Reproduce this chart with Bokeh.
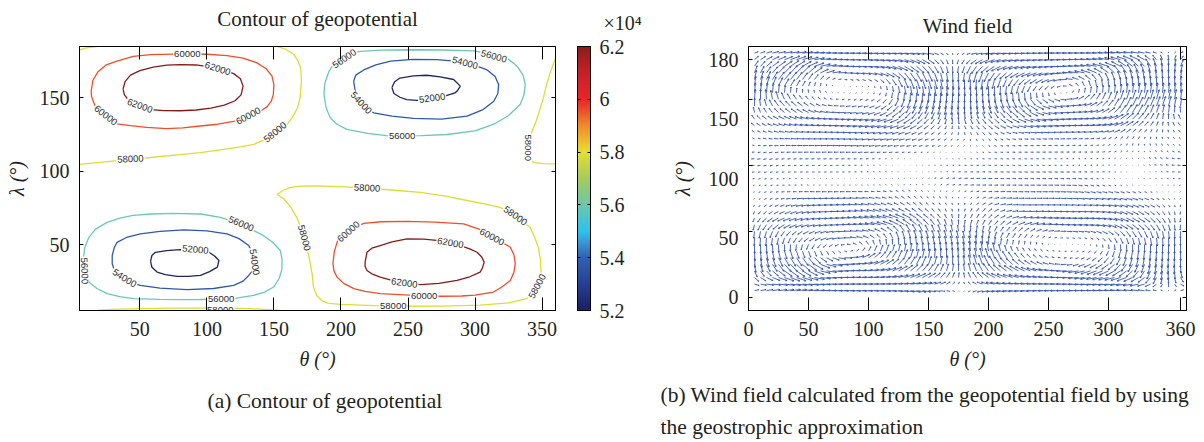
import numpy as np
from bokeh.plotting import figure
from bokeh.layouts import row
from bokeh.models import Range1d, LinearAxis, FixedTicker, Title, ColumnDataSource, LinearColorMapper
from bokeh.core.properties import value
from bokeh.embed import file_html
from bokeh.resources import INLINE

SERIF = "'Liberation Serif'"
SANS = "'Liberation Sans'"
INK = "#231f20"

# ---------------------------------------------------------------- data
title_left = "Contour of geopotential"
title_right = "Wind field"
caption_left = "(a)  Contour of geopotential"
caption_right_1 = "(b)  Wind field calculated from the geopotential field by using"
caption_right_2 = "the geostrophic approximation"
xlabel = "θ (°)"
ylabel = "λ (°)"

left_xticks = [50, 100, 150, 200, 250, 300, 350]
left_yticks = [50, 100, 150]
right_xticks = [0, 50, 100, 150, 200, 250, 300, 360]
right_yticks = [0, 50, 100, 150, 180]
right_ylabel_pos = [0, 45, 90, 135, 180]          # where the labels sit in the original
right_ylabel_txt = ["0", "50", "100", "150", "180"]

cbar_ticks = [52000, 54000, 56000, 58000, 60000, 62000]
cbar_labels = ["5.2", "5.4", "5.6", "5.8", "6", "6.2"]
cbar_exponent = "×10⁴"

cmap_levels = [52000, 53000, 54000, 54500, 55000, 56000, 57000, 58000, 58300, 59000, 60000, 61000, 62000]
cmap_colors = ["#1c1f60", "#264094", "#2f64b4", "#3a8fd0", "#2ec2ec", "#6cc7ac", "#a8ca5a",
               "#e2e032", "#ecc82e", "#f08a2a", "#e8262a", "#c8202a", "#8c1c1c"]

level_colors = {52000: "#1d2468", 54000: "#2f58ac", 56000: "#6cc8b4",
                58000: "#dedc36", 60000: "#ee4f2a", 62000: "#861a1a"}

# contour paths: (theta, lambda)
c62_top_left = [(37.5,156),(39,161),(43,165.5),(50,168.5),(60,171),(70,172.3),(80,172.7),(92,172.4),
                (103,171),(112,169),(120,166.5),(125,163),(127,158),(125.5,152),(121,148),(113,145),
                (103,143),(92,141.7),(80,141.2),(68,141.3),(58,142),(49,144),(42,148),(38.5,152),(37.5,156)]
c60_top_left = [(13.7,154.5),(15,162),(19,168),(25,172.5),(33,175),(45,178.3),(58,179.4),(75,179.8),
                (90,179.9),(100,179.7),(115,178.8),(127,177),(137,174),(144,170),(148.5,165),(150,159),
                (149.5,152),(148,147.7),(145,144),(141,141.5),(133,138),(120,134),(108,132),(95,130.8),
                (82,129.5),(70,129),(55,129.8),(43,131),(33,132.3),(24,137.5),(18,142),(15.5,147),
                (14,151),(13.7,154.5)]
c58_top_left = [(5,104.7),(20,106),(35,107.4),(50,108.5),(65,110),(80,111.3),(95,112.6),(110,114.5),
                (125,116.5),(135,118.3),(143,121.5),(150,125.5),(156,129.5),(160,132),(164,137),
                (167.5,143),(169.5,150),(170.5,161),(170,170),(168,175),(165,179.5),(159,183),(152.5,185)]
c58_corner = [(5,182.6),(10,184),(18,185)]
c56_top_right = [(187.3,152.2),(188,160),(191,168),(195,173.5),(199.5,177),(206,180),(214.5,181.7),
                 (230,182.5),(254,182.8),(275,182.6),(299,182),(312,180),(323.7,177),(329,173.5),
                 (332.4,170.3),(336,165),(337.4,159),(336.5,152),(333.6,145.5),(325,138),(314,132),
                 (300,127.5),(279,125),(260,124.2),(245.6,124),(234,124.2),(220,125.8),(204.4,128.5),
                 (197,132),(192,136.4),(189,143),(187.3,152.2)]
c54_top_right = [(209.5,161.3),(211,165.5),(217,169),(226,172.5),(237,175),(254,176.2),(271.5,176),
                 (285,175),(296,173.5),(309,169),(315,164.5),(317.6,159),(317,153),(314,147.7),
                 (306,142),(294,137.5),(275,135.5),(254,136),(238,137.5),(224.4,139.8),(216,145),
                 (211,152),(209.5,161.3)]
c52_top_right = [(238,157),(240,161),(244,163.5),(254,165),(264,165.4),(274,164.3),(284,162.5),
                 (289,158),(287,155),(285,153.3),(275,150.5),(266,149.2),(256.7,148.2),(249,148.8),
                 (244,150.4),(239.5,153),(238,157)]
c58_right_edge = [(360,177),(356,167),(353,158),(351,150),(348,141),(345.5,134),(342.6,127.4),
                  (340.5,120),(339.6,113),(340.5,108),(344,105.8),(351,105.2),(360,105)]
c58_middle = [(152.3,84.3),(157,87),(162.3,88.9),(170,89.8),(180,90),(200,89.5),(219.5,88.4),
              (240,87),(259,85.5),(278,83),(294,80),(308,77.5),(318.7,75.3),(326,71.5),(333,67),
              (341,61.7),(344.5,55),(347.2,48),(348.7,40),(349.2,30),(348,24),(345,18.5),(338.6,13.1),
              (325,10.2),(303.8,8.6),(275,8),(249,7.9),(225,8.3),(199.4,9.2),(190,10),(186,11.5),
              (182,15),(179.5,21),(178.5,30),(176.5,40),(174.5,48),(172,57),(169.5,63),(167,68.5),
              (162.5,75.5),(157.5,81),(152.3,84.3)]
c60_bottom_right = [(194,36.9),(195,45),(198.2,54.9),(205.7,58.7),(211,61.8),(217,64.4),(230,65.5),
                    (249.3,65.8),(270,65.3),(291.5,64),(303,60.5),(313,55.5),(320,51.5),(326.3,48.1),
                    (329,43),(330,36.9),(329,31),(326.3,25.5),(320,21),(313.7,17.6),(300,15.5),
                    (290,14.9),(274,14.7),(255,15.3),(240,16),(229.3,16.5),(218,18),(209.6,19.9),
                    (202,23.5),(197,27.8),(194.8,32),(194,36.9)]
c62_bottom_right = [(218,38),(219.4,44.7),(223,47.5),(229.3,49.3),(238,51.8),(249.2,53.8),(262,53.7),
                    (275,52.5),(288,49.5),(296,47),(301.5,44.7),(305,41.5),(306.8,38),(305.5,34),
                    (303.8,31.2),(296,28),(286.6,25.5),(273,23.5),(259.3,22.6),(247.2,23.7),(238,25.5),
                    (229.3,27.8),(223,30),(219.4,32.3),(218,35),(218,38)]
c56_bottom_left = [(8,41.3),(9,48),(12,54.9),(17,60.5),(25.6,65.1),(35,68),(45,69.8),(58,70.8),(75,71.2),
                   (95.4,70.8),(110,68.5),(125.5,64),(135,59.5),(142.3,56),(149,51.5),(154.8,45.9),
                   (156,40),(156,33.4),(154,27),(149.8,21),(143,17.5),(134.9,15.3),(122,13.5),
                   (110.6,12.8),(95,12.5),(82.7,12.4),(65,12.6),(45.5,13.1),(35,14.5),(25.6,16.5),
                   (18,20),(12,24.4),(9.5,30),(8.3,36),(8,41.3)]
c54_bottom_left = [(29.4,42.5),(31,48),(33,51.5),(40,54.8),(50.4,57.2),(65,59),(82.7,60),(100,59.3),
                   (115,57.2),(124,54),(131.2,49.3),(134,44),(135.4,38),(134,32),(131.2,28.9),(127,25),
                   (120,22.1),(105,20),(85.3,19.2),(65,20.2),(50.4,22.1),(42,24.5),(35,28.5),(31,32.5),
                   (29.4,36.9),(29.4,42.5)]
c52_bottom_left = [(58,38.5),(59,42.5),(61.6,44.7),(70,45.8),(80,46.5),(91.4,46.4),(101.6,44.7),(106,42),
                   (109,39.1),(107.8,34.6),(102,31.5),(95.2,28.9),(86,28.3),(77.9,28.2),(69,29.5),
                   (62.9,31.2),(59,34.5),(58,38.5)]
c58_bottom_strip = [(18,5),(30,5.8),(50,6.3),(75,6.6),(100,6.6),(125,6.4),(140,6.0),(150,5.4),(155,5)]

contours = [(62000, c62_top_left), (60000, c60_top_left), (58000, c58_top_left), (58000, c58_corner),
            (56000, c56_top_right), (54000, c54_top_right), (52000, c52_top_right),
            (58000, c58_right_edge), (58000, c58_middle), (60000, c60_bottom_right),
            (62000, c62_bottom_right), (56000, c56_bottom_left), (54000, c54_bottom_left),
            (52000, c52_bottom_left), (58000, c58_bottom_strip)]

# inline contour labels: theta, lambda, text, rotation (deg)
label_theta = [85.4, 108, 50, 24.5, 131, 43, 151, 202.6, 314, 292.5, 215, 268, 245.6, 339.5,
               219.5, 330, 346.5, 239, 205.7, 312.6, 262, 281.6, 247.2, 172.5, 125.5, 91.4,
               135.4, 38.5, 110.6, 110, 8.6]
label_lambda = [179.9, 169.8, 144.5, 138, 137.5, 108.2, 126.5, 176.6, 178.2, 173.8, 146.5, 149.7,
                124, 116, 88.4, 69.5, 21.5, 7.9, 58.7, 55, 15, 51, 23.7, 54.5, 64, 46.4, 38, 27,
                12.7, 5.6, 32]
label_text = ["60000", "62000", "62000", "60000", "60000", "58000", "58000", "56000", "56000",
              "54000", "54000", "52000", "56000", "58000", "58000", "58000", "58000", "58000",
              "60000", "60000", "60000", "62000", "62000", "58000", "56000", "52000", "54000",
              "54000", "56000", "58000", "56000"]
label_angle = [0, -18, -20, -38, 28, 3, 40, 35, -15, -15, -47, 8, 0, -90, -3, -35, 62, 0, 42, -28,
               0, -10, -8, -75, -22, -5, -82, -32, 0, 0, -88]

phi_theta_nodes = [0, 30, 60, 90, 120, 150, 180, 210, 240, 270, 300, 330, 360]
phi_lambda_nodes = [5, 20, 35, 50, 65, 80, 95, 110, 125, 140, 155, 170, 185]
phi_table = [
    [57800, 58100, 58400, 58400, 58300, 58000, 57800, 57500, 57300, 57300, 57400, 57600, 57800],
    [57000, 55500, 54000, 53900, 54500, 56100, 58000, 60000, 61300, 61600, 60800, 59300, 57000],
    [56900, 54000, 51950, 51500, 53050, 55500, 58300, 61300, 62600, 62800, 62300, 60000, 56900],
    [56900, 54200, 52900, 52600, 53400, 56000, 58700, 60900, 62300, 62500, 61900, 59800, 56900],
    [57000, 55800, 54900, 54900, 55800, 57200, 58500, 59800, 60100, 60100, 59800, 58500, 57000],
    [57100, 56800, 56800, 56800, 57000, 57700, 58300, 58500, 58500, 58400, 57900, 57400, 57100],
    [57500, 57300, 57200, 57150, 57300, 57500, 57600, 57600, 57500, 57400, 57400, 57400, 57500],
    [58200, 58000, 57900, 57800, 57600, 57400, 57200, 57000, 56900, 56900, 57000, 57600, 58200],
    [58600, 59200, 59500, 59500, 59000, 58200, 57300, 56300, 55900, 55900, 56300, 57500, 58600],
    [59100, 60700, 61800, 61900, 61200, 59300, 57000, 55000, 53500, 53200, 54000, 56500, 59100],
    [58800, 61600, 62700, 62800, 62300, 60000, 57000, 54100, 52000, 51500, 53000, 55500, 58800],
    [58500, 60300, 62100, 62300, 61600, 59400, 57000, 54600, 53300, 52800, 53600, 55800, 58500],
    [57800, 58200, 58500, 58500, 58300, 58000, 57600, 57300, 57100, 57100, 57200, 57500, 57800],
]
arrow_theta = list(range(5, 361, 5))
arrow_lambda = list(range(5, 186, 5))

# ---------------------------------------------------------------- helpers
def cr(p0, p1, p2, p3, t):
    return 0.5 * (2 * p1 + (p2 - p0) * t + (2 * p0 - 5 * p1 + 4 * p2 - p3) * t ** 2
                  + (3 * p1 - p0 - 3 * p2 + p3) * t ** 3)

PHI = np.array(phi_table, float)[:, :-1]
NT = PHI.shape[1]
DT = float(phi_theta_nodes[1] - phi_theta_nodes[0])
L0 = float(phi_lambda_nodes[0])
DL = float(phi_lambda_nodes[1] - phi_lambda_nodes[0])

def field(th, la):
    th = np.mod(np.asarray(th, float), 360.0)
    la = np.asarray(la, float)
    i = np.floor(th / DT).astype(int) % NT
    t = (th - np.floor(th / DT) * DT) / DT
    rows = cr(PHI[:, (i - 1) % NT], PHI[:, i], PHI[:, (i + 1) % NT], PHI[:, (i + 2) % NT], t)
    ext = np.vstack([2 * rows[0] - rows[1], rows, 2 * rows[-1] - rows[-2]])
    nl = rows.shape[0]
    j = np.clip(np.floor((la - L0) / DL).astype(int), 0, nl - 2)
    s = (la - L0 - j * DL) / DL
    c = np.arange(th.size)
    return cr(ext[j, c], ext[j + 1, c], ext[j + 2, c], ext[j + 3, c], s)

def hex2rgb(h):
    return [int(h[k:k + 2], 16) for k in (1, 3, 5)]

rgb = np.array([hex2rgb(c) for c in cmap_colors], float)
vals = np.linspace(cmap_levels[0], cmap_levels[-1], 256)
palette = []
for v in vals:
    r, g, b = (int(round(np.interp(v, cmap_levels, rgb[:, k]))) for k in range(3))
    palette.append("#%02x%02x%02x" % (r, g, b))

def style_axis(ax, ticks, tick_in, show=True, standoff=8):
    ax.ticker = FixedTicker(ticks=ticks)
    ax.major_tick_in = tick_in
    ax.major_tick_out = 0
    ax.minor_tick_line_color = None
    ax.axis_line_color = "black"
    ax.major_tick_line_color = "black"
    ax.major_label_text_font = SERIF
    ax.major_label_text_font_size = "20px"
    ax.major_label_text_color = INK
    ax.major_label_standoff = standoff
    ax.axis_label_text_font = SERIF
    ax.axis_label_text_font_size = "20px"
    ax.axis_label_text_font_style = "italic"
    ax.axis_label_text_color = INK
    if not show:
        ax.major_label_overrides = {t: "" for t in ticks}
        ax.major_label_text_font_size = "0px"
        ax.major_label_standoff = 0
    return ax

def spacer_top(ticks, tick_in, size_px, gap):
    # top mirror axis: ticks only; blank labels whose height lifts the title
    a = style_axis(LinearAxis(), ticks, tick_in)
    a.major_label_overrides = {t: " " for t in ticks}
    a.major_label_text_font_size = "%dpx" % size_px
    a.major_label_standoff = gap
    return a

def style_title(t, size="21px"):
    t.text_font = SERIF
    t.text_font_size = size
    t.text_font_style = "normal"
    t.text_color = INK

# ---------------------------------------------------------------- left: contour
p1 = figure(width=565, height=442, x_range=Range1d(5, 360), y_range=Range1d(5, 185),
            x_axis_location=None, y_axis_location=None, toolbar_location=None, tools="",
            output_backend="svg", min_border_left=79, min_border_right=10,
            min_border_top=44, min_border_bottom=132, title=title_left)
p1.grid.grid_line_color = None
p1.outline_line_color = "black"
style_title(p1.title)
p1.title.align = "center"
p1.title.standoff = 0

ax = style_axis(LinearAxis(), left_xticks, 13, standoff=11)
ax.axis_label = xlabel
ax.axis_label_standoff = 9
p1.add_layout(ax, "below")
p1.add_layout(spacer_top(left_xticks, 13, 10, 2), "above")
ay = style_axis(LinearAxis(), left_yticks, 4, standoff=10)
ay.axis_label = ylabel
ay.axis_label_standoff = 9
p1.add_layout(ay, "left")
p1.add_layout(style_axis(LinearAxis(), left_yticks, 4, show=False), "right")

for lev in sorted(level_colors):
    xs = [[pt[0] for pt in path] for (lv, path) in contours if lv == lev]
    ys = [[pt[1] for pt in path] for (lv, path) in contours if lv == lev]
    p1.multi_line(xs, ys, line_color=level_colors[lev], line_width=1.3)

lab_src = ColumnDataSource(dict(x=label_theta, y=label_lambda, text=label_text, angle=label_angle))
p1.text(x="x", y="y", text="text", angle="angle", angle_units="deg", source=lab_src,
        text_font=value(SANS), text_font_size=value("9.5px"), text_color="#2a2a2a",
        text_align="center", text_baseline="middle",
        background_fill_color="white", padding=1)

cap_a = Title(text=caption_left, align="left", offset=128, standoff=28)
style_title(cap_a, "21.5px")
p1.add_layout(cap_a, "below")

# ---------------------------------------------------------------- colour bar
pcb = figure(width=85, height=442, x_range=Range1d(0, 1), y_range=Range1d(cbar_ticks[0], cbar_ticks[-1]),
             x_axis_location=None, y_axis_location=None, toolbar_location=None, tools="",
             output_backend="svg", min_border_left=12, min_border_right=60,
             min_border_top=44, min_border_bottom=132, title=cbar_exponent)
pcb.grid.grid_line_color = None
pcb.outline_line_color = "black"
style_title(pcb.title, "20px")
pcb.title.align = "left"
pcb.title.offset = 26
pcb.title.standoff = 0
grad = np.linspace(cbar_ticks[0], cbar_ticks[-1], 256).reshape(-1, 1)
mapper = LinearColorMapper(palette=palette, low=cbar_ticks[0], high=cbar_ticks[-1])
pcb.image(image=[grad], x=0, y=cbar_ticks[0], dw=1, dh=cbar_ticks[-1] - cbar_ticks[0], color_mapper=mapper)
cr_ax = style_axis(LinearAxis(), cbar_ticks, 3, standoff=9)
cr_ax.major_label_overrides = dict(zip(cbar_ticks, cbar_labels))
pcb.add_layout(cr_ax, "right")
pcb.add_layout(style_axis(LinearAxis(), cbar_ticks, 3, show=False), "left")
top_cb = spacer_top([0.5], 0, 8, 1)
top_cb.major_tick_line_color = None
pcb.add_layout(top_cb, "above")

# ---------------------------------------------------------------- right: wind field
TH, LA = np.meshgrid(np.array(arrow_theta, float), np.array(arrow_lambda, float))
th = TH.ravel()
la = LA.ravel()
dphi_dth = (field(th + 1, la) - field(th - 1, la)) / 2.0
dphi_dla = (field(th, la + 1) - field(th, la - 1)) / 2.0
u = -dphi_dla
v = dphi_dth / np.maximum(np.abs(np.sin(np.radians(la))), 0.5)

PXX = 438.0 / 365.0
PXY = 267.0 / 200.0
K = 0.055
LMAX = 10.0
Lx = K * u
Ly = K * v
L = np.hypot(Lx, Ly)
f = np.minimum(1.0, LMAX / np.maximum(L, 1e-9))
Lx, Ly, L = Lx * f, Ly * f, L * f
x1 = th + Lx / PXX
y1 = la + Ly / PXY
ux = Lx / np.maximum(L, 1e-9)
uy = Ly / np.maximum(L, 1e-9)
h = np.minimum(0.2 * L, 1.8)
hx, hy, hx1, hy1 = [], [], [], []
for a in (0.45, -0.45):
    rx = -ux * np.cos(a) + uy * np.sin(a)
    ry = -ux * np.sin(a) - uy * np.cos(a)
    m = L > 1.5
    hx.append(x1[m]); hy.append(y1[m])
    hx1.append(x1[m] + h[m] * rx[m] / PXX); hy1.append(y1[m] + h[m] * ry[m] / PXY)

p2 = figure(width=554, height=442, x_range=Range1d(0, 365), y_range=Range1d(-10, 190),
            x_axis_location=None, y_axis_location=None, toolbar_location=None, tools="",
            output_backend="svg", min_border_left=98, min_border_right=18,
            min_border_top=46, min_border_bottom=129, title=title_right)
p2.grid.grid_line_color = None
p2.outline_line_color = "black"
style_title(p2.title)
p2.title.align = "center"
p2.title.standoff = 0

bx = style_axis(LinearAxis(), right_xticks, 13, standoff=11)
bx.axis_label = xlabel
bx.axis_label_standoff = 9
p2.add_layout(bx, "below")
p2.add_layout(spacer_top(right_xticks, 13, 6, 0), "above")
p2.add_layout(style_axis(LinearAxis(), right_yticks, 4, show=False), "left")
ly = style_axis(LinearAxis(), right_ylabel_pos, 0, standoff=10)
ly.major_tick_line_color = None
ly.axis_line_color = None
ly.major_label_overrides = dict(zip(right_ylabel_pos, right_ylabel_txt))
ly.axis_label = ylabel
ly.axis_label_standoff = 12
p2.add_layout(ly, "left")
p2.add_layout(style_axis(LinearAxis(), right_yticks, 4, show=False), "right")

ARROW = "#3556b2"
p2.segment(th, la, x1, y1, line_color=ARROW, line_width=0.9)
p2.segment(np.concatenate(hx), np.concatenate(hy), np.concatenate(hx1), np.concatenate(hy1),
           line_color=ARROW, line_width=0.9)

cap_b1 = Title(text=caption_right_1, align="left", offset=-88, standoff=17)
cap_b2 = Title(text=caption_right_2, align="left", offset=-88, standoff=-6)
style_title(cap_b1, "21.5px")
style_title(cap_b2, "21.5px")
p2.add_layout(cap_b1, "below")
p2.add_layout(cap_b2, "below")

layout = row(p1, pcb, p2)
open("out.html", "w").write(file_html(layout, INLINE))
